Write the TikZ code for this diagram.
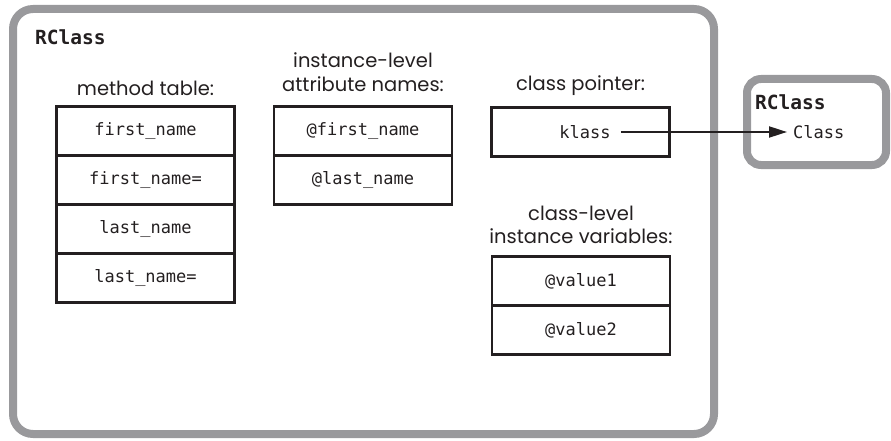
\documentclass[tikz,border=0pt]{standalone}
\usepackage{fontspec}
\usetikzlibrary{arrows.meta}
\newfontfamily\monof{DejaVu Sans Mono}
\newfontfamily\labf{Poppins}
\definecolor{frame}{RGB}{153,153,156}
\definecolor{ink}{RGB}{35,31,32}
\tikzset{
  cell/.style={draw=ink, line width=2.5pt, minimum width=178pt, minimum height=49pt, inner sep=0pt, font=\monof\fontsize{17}{20}\selectfont, text=ink},
  lab/.style={font=\labf\fontsize{19.5}{23.5}\selectfont, text=ink, align=center, inner sep=0pt},
  title/.style={font=\monof\bfseries\fontsize{19.5}{22}\selectfont, text=ink, inner sep=0pt, anchor=west},
  mono/.style={font=\monof\fontsize{17}{20}\selectfont, text=ink, inner sep=0pt},
  outer/.style={draw=frame, line width=8pt, rounded corners=20pt},
}
\begin{document}
\begin{tikzpicture}[x=1pt,y=-1pt]
\useasboundingbox (0,0) rectangle (891,441);
% outer frames
\draw[outer] (13,9) rectangle (714,434);
\draw[outer, rounded corners=14pt] (747,79) rectangle (886,165);
\node[title] (t1) at (35,37) {RClass};
\node[title] (t2) at (755,102) {RClass};
% method table
\node[lab] (l1) at (145.5,88) {method table:};
\node[cell] (m1) at (145.5,131) {first\_name};
\node[cell] (m2) at (145.5,180) {first\_name=};
\node[cell] (m3) at (145.5,229) {last\_name};
\node[cell] (m4) at (145.5,278) {last\_name=};
% instance-level
\node[lab] (l2) at (363,72) {instance-level\\attribute names:};
\node[cell] (a1) at (363,131) {@first\_name};
\node[cell] (a2) at (363,180) {@last\_name};
% class pointer
\node[lab] (l3) at (580.5,86) {class pointer:};
\node[cell] (c1) at (580.5,132) {};
\node[mono] (k) at (585,132) {klass};
\node[mono, anchor=west] (cl) at (793,132) {Class};
\draw[ink, line width=2pt, -{Stealth[length=18pt,width=11pt,inset=0pt]}] (k.east) ++(10,0) -- ([xshift=-6pt]cl.west);
% class-level
\node[lab] (l4) at (581,225) {class-level\\instance variables:};
\node[cell] (v1) at (581,281) {@value1};
\node[cell] (v2) at (581,330) {@value2};
\end{tikzpicture}
\end{document}
